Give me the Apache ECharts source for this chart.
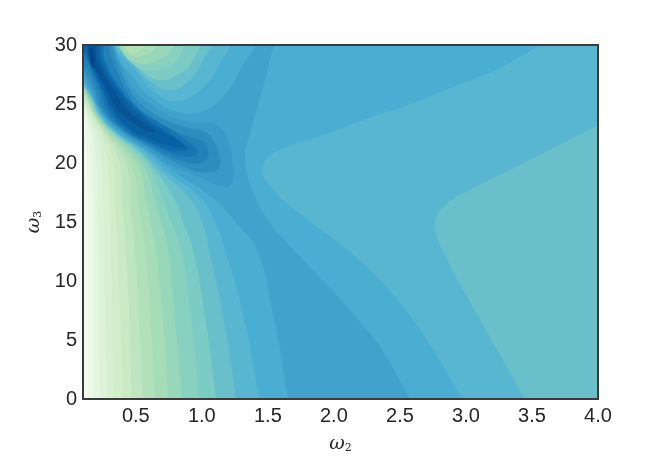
<!DOCTYPE html>
<html>
<head>
<meta charset="utf-8">
<style>
  html, body { margin: 0; padding: 0; background: #fff; }
  #main { width: 664px; height: 457px; }
</style>
<script src="https://cdn.jsdelivr.net/npm/echarts@6/dist/echarts.min.js"></script>
</head>
<body>
<div id="main"></div>
<script>
// tick labels
const xTicks = [0.5, 1.0, 1.5, 2.0, 2.5, 3.0, 3.5, 4.0];
const yTicks = [0, 5, 10, 15, 20, 25, 30];

// colour of each contour level, low to high
const levelColors = [
  '#f3fbed', '#ecf8e6', '#e5f5e0', '#ddf2d8', '#d7f0d1', '#d1edca', '#c9eac3', '#bee5bf', '#b2e1b9',
  '#a6dcb6', '#98d7ba', '#89d1bf', '#7bccc4', '#69bfca', '#59b6d0', '#4aaed2', '#41a3cc', '#379ac8',
  '#2c8dbf', '#2181b8', '#1776b2', '#0c6aad', '#085fa2', '#085296', '#084588'
];

// lower left contours: omega2 read at each omega3 of lowY
const lowY = [0, 7.54, 12.63, 14.75, 16.86, 19.41, 21.1, 22.54, 24.07, 25.34, 26.61, 27.71];
const low0 = [.138, .138, .138, .138, .138, .13, .13, .123, .108, .085, .062, .047];
const low1 = [.176, .176, .176, .176, .176, .168, .161, .153, .119, .092, .07, .047];
const low2 = [.229, .221, .214, .21, .206, .206, .191, .176, .13, .1, .07, .047];
const low3 = [.282, .267, .259, .255, .252, .244, .229, .198, .142, .1, .077, .047];
const low4 = [.327, .32, .312, .305, .297, .289, .267, .221, .153, .108, .077, .055];
const low5 = [.403, .38, .365, .354, .342, .335, .305, .244, .168, .115, .077, .055];
const low6 = [.471, .448, .426, .411, .395, .388, .335, .259, .176, .123, .081, .055];
const low7 = [.555, .52, .494, .475, .456, .441, .373, .274, .183, .13, .085, .055];
const low8 = [.645, .608, .57, .543, .517, .486, .403, .289, .191, .138, .092, .062];
const low9 = [.744, .698, .653, .615, .577, .532, .433, .305, .198, .145, .092, .062];
const low10 = [.85, .789, .744, .698, .645, .577, .464, .32, .206, .153, .1, .062];
const low11 = [.979, .911, .842, .774, .706, .615, .486, .331, .214, .161, .1, .062];
const low12 = [1.108, 1.017, .933, .865, .797, .645, .509, .342, .221, .168, .108, .07];
const low13 = [1.259, 1.153, 1.055, 1.009, .918, .683, .532, .354, .229, .176, .108, .07];
const low14 = [1.433, 1.305, 1.176, 1.108, 1.002, .721, .555, .365, .236, .183, .115, .07];
const low15 = [1.653, 1.532, 1.418, 1.274, 1.1, .774, .577, .38, .252, .195, .13, .077];
const lowContours = [low0, low1, low2, low3, low4, low5, low6, low7, low8, low9, low10, low11, low12, low13, low14, low15];

// top basin contours [omega2, omega3]
const arch8 = [[.555, 30.42], [.555, 29.83], [.494, 29.32], [.433, 29.58], [.411, 30.42]];
const arch9 = [[.661, 30.42], [.638, 29.58], [.555, 29.07], [.471, 29.07], [.411, 29.58], [.395, 30.42]];
const arch10 = [[.782, 30.42], [.759, 29.41], [.668, 28.73], [.547, 28.39], [.441, 28.9], [.38, 29.75], [.38, 30.42]];
const arch11 = [[.858, 30.42], [.835, 29.15], [.744, 28.2], [.608, 27.88], [.479, 28.39], [.395, 29.58], [.373, 30.42]];
const arch12 = [[.971, 30.42], [.926, 28.56], [.835, 27.6], [.683, 27.03], [.532, 27.88], [.433, 29.15], [.358, 30.42]];
const arch13 = [[1.077, 30.42], [1.024, 28.98], [.911, 27.03], [.759, 26.19], [.592, 27.03], [.471, 28.56], [.342, 30.42]];
const arch14 = [[1.198, 30.42], [1.138, 28.47], [.986, 26.19], [.797, 25.25], [.623, 26.19], [.509, 27.71], [.327, 30.42]];
const arch15 = [[1.38, 30.42], [1.289, 27.88], [1.161, 25.59], [.986, 24.32], [.797, 24.41], [.623, 25.51], [.494, 27.03], [.312, 30.42]];

// dark ridge contours
const ridge17 = [[.289, 30.6], [.38, 28.56], [.479, 26.36], [.608, 25], [.797, 23.81], [.986, 23.39], [1.115, 23.22], [1.198, 21.95], [1.236, 19.66], [1.229, 18.39], [1.176, 17.97], [.986, 18.81], [.888, 19.24], [.759, 19.83], [.608, 21.02], [.373, 22.8], [.229, 24.49], [.161, 26.19], [.1, 27.71], [.047, 28.56], [.047, 30.85]];
const ridge18 = [[.267, 30.6], [.358, 28.56], [.456, 26.19], [.577, 24.66], [.759, 23.47], [.933, 22.88], [1.024, 22.63], [1.085, 21.95], [1.138, 20.25], [1.115, 19.41], [.986, 19.24], [.888, 19.58], [.759, 20.25], [.608, 21.27], [.388, 22.8], [.244, 24.49], [.183, 26.19], [.115, 27.71], [.047, 28.73], [.047, 30.85]];
const ridge19 = [[.252, 30.6], [.327, 28.56], [.433, 26.02], [.555, 24.32], [.759, 22.88], [.888, 22.29], [.986, 21.95], [1.024, 21.69], [1.047, 20.51], [.986, 20], [.888, 20.08], [.759, 20.51], [.608, 21.44], [.403, 22.8], [.259, 24.49], [.206, 26.19], [.138, 27.88], [.047, 29.15], [.047, 30.85]];
const ridge20 = [[.236, 30.6], [.267, 28.73], [.395, 26.19], [.532, 24.49], [.645, 23.64], [.774, 22.8], [.858, 22.12], [.948, 21.27], [.971, 20.85], [.888, 20.51], [.759, 20.85], [.608, 21.61], [.418, 22.8], [.282, 24.49], [.229, 26.19], [.13, 28.73], [.077, 30.6]];
const ridge21 = [[.221, 30.6], [.252, 28.73], [.38, 26.19], [.517, 24.49], [.645, 23.31], [.759, 22.54], [.873, 21.53], [.903, 21.1], [.835, 21.02], [.759, 21.1], [.608, 21.78], [.441, 22.8], [.305, 24.49], [.244, 26.19], [.138, 28.73], [.092, 30.6]];
const ridge22 = [[.206, 30.6], [.229, 28.73], [.365, 26.19], [.486, 24.49], [.645, 23.05], [.774, 22.2], [.873, 21.36], [.759, 21.44], [.608, 22.03], [.471, 22.8], [.327, 24.49], [.259, 26.19], [.153, 28.73], [.115, 30.6]];
const ridge23 = [[.191, 30.08], [.206, 28.73], [.335, 26.19], [.441, 24.49], [.57, 23.31], [.645, 22.71], [.57, 22.8], [.365, 24.49], [.282, 26.19], [.161, 28.73], [.145, 30.08]];
const ridge24 = [[.168, 29.75], [.191, 28.56], [.176, 28.05], [.153, 28.73], [.145, 29.75]];

// right hand regions
const right13 = [[3.5, -1], [3.448, 0], [3.108, 6.69], [2.842, 12.2], [2.767, 14.75], [2.842, 16.44], [3.032, 17.71], [3.41, 19.83], [4, 23.22], [4.17, 24.3], [4.3, 24.3], [4.3, -1]];
const right14 = [[3, -1], [2.971, 0], [2.653, 5.85], [2.35, 10.08], [2.1, 12.63], [1.805, 15.17], [1.615, 16.86], [1.502, 18.31], [1.456, 19.24], [1.502, 20.51], [1.645, 21.36], [1.873, 22.2], [2.123, 23.22], [2.373, 24.24], [2.502, 24.66], [2.88, 26.36], [3.259, 28.05], [3.562, 30], [3.79, 31.3], [4.3, 31.3], [4.3, -1]];
const middle16 = [[1.58, 31], [1.562, 30.6], [1.464, 26.44], [1.365, 22.54], [1.327, 20.25], [1.403, 17.12], [1.517, 14.92], [1.645, 13.22], [1.842, 10.93], [2.1, 7.8], [2.35, 4.41], [2.577, 0], [2.63, -1], [-.2, -1], [-.2, 31]];
const fullPlot = [[-.2, -1], [4.3, -1], [4.3, 31.3], [-.2, 31.3]];

// paint order: back to front
const layers = [];
function addLayer(points, level, smooth) {
  layers.push({ points: points, color: levelColors[level], smooth: smooth });
}
addLayer(fullPlot, 15, 0);
addLayer(right14, 14, 0.4);
addLayer(right13, 13, 0.4);
addLayer(middle16, 16, 0.4);
for (let k = 15; k >= 0; k--) {
  const xs = lowContours[k];
  const pts = [[xs[0], -1]];
  xs.forEach((x, i) => pts.push([x, lowY[i]]));
  pts.push([-.2, 28.5], [-.2, -1]);
  addLayer(pts, k, 0.5);
}
[arch15, arch14, arch13, arch12, arch11, arch10, arch9, arch8].forEach((pts, i) => addLayer(pts, 15 - i, 0.45));
[ridge17, ridge18, ridge19, ridge20, ridge21, ridge22, ridge23, ridge24].forEach((pts, i) => addLayer(pts, 17 + i, 0.45));

const labelFont = { color: '#262626', fontFamily: 'Liberation Sans', fontSize: 20 };
const nameRich = {
  w: { color: '#262626', fontFamily: 'DejaVu Serif', fontStyle: 'italic', fontSize: 19 },
  s: { color: '#262626', fontFamily: 'DejaVu Serif', fontSize: 11, padding: [8, 0, 0, 0] }
};
const frameLine = { show: true, onZero: false, lineStyle: { color: '#3a3a3a', width: 2 } };

const chart = echarts.init(document.getElementById('main'));
chart.setOption({
  animation: false,
  backgroundColor: '#fff',
  grid: { left: 83, right: 66, top: 45, bottom: 58, outerBoundsMode: 'none' },
  xAxis: [
    {
      type: 'value', min: 0.1, max: 4, z: 10,
      name: '{w|ω}{s|2}', nameLocation: 'middle', nameGap: 36, nameTextStyle: { rich: nameRich },
      axisLine: frameLine, axisTick: { show: false }, splitLine: { show: false },
      axisLabel: Object.assign({}, labelFont, {
        margin: 7, customValues: xTicks, formatter: v => v.toFixed(1)
      })
    },
    {
      type: 'value', min: 0.1, max: 4, position: 'top', z: 10,
      axisLine: frameLine, axisTick: { show: false }, splitLine: { show: false }, axisLabel: { show: false }
    }
  ],
  yAxis: [
    {
      type: 'value', min: 0, max: 30, z: 10,
      name: '{w|ω}{s|3}', nameLocation: 'middle', nameGap: 36, nameTextStyle: { rich: nameRich },
      axisLine: frameLine, axisTick: { show: false }, splitLine: { show: false },
      axisLabel: Object.assign({}, labelFont, { margin: 6, customValues: yTicks })
    },
    {
      type: 'value', min: 0, max: 30, position: 'right', z: 10,
      axisLine: frameLine, axisTick: { show: false }, splitLine: { show: false }, axisLabel: { show: false }
    }
  ],
  series: [{
    type: 'custom',
    coordinateSystem: 'cartesian2d',
    clip: true,
    silent: true,
    data: layers.map((l, i) => [l.points[0][0], l.points[0][1], i]),
    renderItem: function (params, api) {
      const layer = layers[api.value(2)];
      return {
        type: 'polygon',
        shape: { points: layer.points.map(p => api.coord(p)), smooth: layer.smooth },
        style: { fill: layer.color }
      };
    }
  }]
});
</script>
</body>
</html>
